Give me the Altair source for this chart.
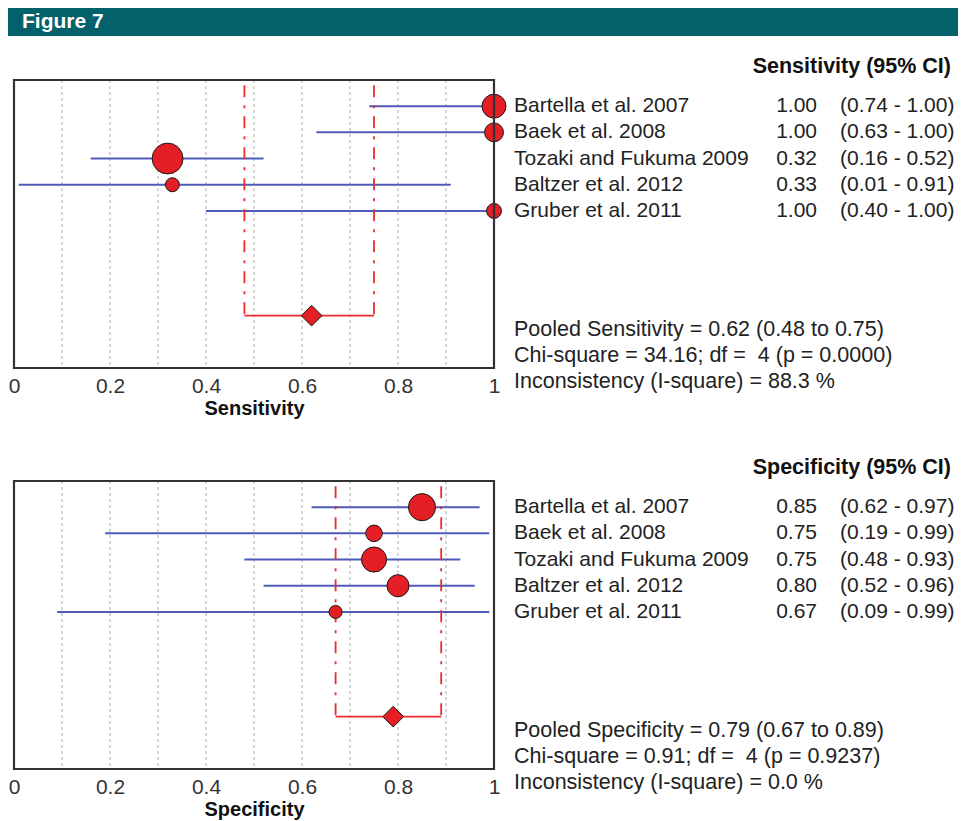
import altair as alt
import pandas as pd

# ---------------- data ----------------
studies = ["Bartella et al. 2007", "Baek et al. 2008", "Tozaki and Fukuma 2009",
           "Baltzer et al. 2012", "Gruber et al. 2011"]
rows = [1, 2, 3, 4, 5]

sens = [1.00, 1.00, 0.32, 0.33, 1.00]
sens_lo = [0.74, 0.63, 0.16, 0.01, 0.40]
sens_hi = [1.00, 1.00, 0.52, 0.91, 1.00]
sens_weight = [24.8, 15.6, 41.4, 8.5, 9.7]

spec = [0.85, 0.75, 0.75, 0.80, 0.67]
spec_lo = [0.62, 0.19, 0.48, 0.52, 0.09]
spec_hi = [0.97, 0.99, 0.93, 0.96, 0.99]
spec_weight = [32.0, 11.9, 27.4, 21.2, 7.4]

sens_pooled = [0.62, 0.48, 0.75]
sens_stats = ["34.16", "4", "0.0000", "88.3"]
spec_pooled = [0.79, 0.67, 0.89]
spec_stats = ["0.91", "4", "0.9237", "0.0"]

grid_ticks = [0.1, 0.2, 0.3, 0.4, 0.5, 0.6, 0.7, 0.8, 0.9]
axis_ticks = [0, 0.2, 0.4, 0.6, 0.8, 1]

FONT = "Liberation Sans"
RED = "#e31e24"
BLUE = "#4f5bb8"
TXT = "#222222"

XS = alt.Scale(domain=[0, 1], nice=False, zero=False)
SIZE = alt.Scale(domain=[0, 100], range=[0, 2300])


def panel(label, est, lo, hi, weight, pooled, stats, yrange, offset):
    ys = alt.Scale(domain=[0, 11], range=yrange, nice=False, zero=False)
    study_df = pd.DataFrame({
        "study": studies, "row": rows, "est": est, "lo": lo, "hi": hi, "w": weight,
        "est_t": [f"{v:.2f}" for v in est],
        "ci_t": [f"({a:.2f} - {b:.2f})" for a, b in zip(lo, hi)],
    })
    grid_df = pd.DataFrame({"gx": grid_ticks, "y0": 0, "y1": 11})
    box_df = pd.DataFrame({"x0": [0.0], "x1": [1.0], "y0": [0], "y1": [11]})
    pv_df = pd.DataFrame({"px": [pooled[1], pooled[2]], "y0": 0.2, "y1": 9})
    ph_df = pd.DataFrame({"x0": [pooled[1]], "x1": [pooled[2]], "est": [pooled[0]], "row": [9]})
    head_df = pd.DataFrame({"t": [f"{label} (95% CI)"], "row": [-0.5]})
    stat_df = pd.DataFrame({
        "t": [f"Pooled {label} = {pooled[0]:.2f} ({pooled[1]:.2f} to {pooled[2]:.2f})",
              f"Chi-square = {stats[0]}; df = \u00a0{stats[1]} (p = {stats[2]})",
              f"Inconsistency (I-square) = {stats[3]} %"],
        "row": [9.55, 10.55, 11.55],
    })

    grid = alt.Chart(grid_df).mark_rule(color="#c4c4c4", strokeWidth=1.4, strokeDash=[3, 3]).encode(
        x=alt.X("gx:Q", scale=XS, axis=None),
        y=alt.Y("y0:Q", scale=ys, axis=None), y2="y1")

    box = alt.Chart(box_df).mark_rect(fill="transparent", stroke="#333333", strokeWidth=2.2).encode(
        x=alt.X("x0:Q", scale=XS, axis=alt.Axis(
            orient="bottom", offset=offset, values=axis_ticks, format="~g",
            domain=False, ticks=False, grid=False, labelFlush=False, labelOverlap=False,
            labelFont=FONT, labelFontSize=21, labelColor="#333333", labelPadding=7,
            title=label, titleFont=FONT, titleFontSize=20, titleFontWeight="bold",
            titleColor="#111111", titlePadding=2)),
        x2="x1",
        y=alt.Y("y0:Q", scale=ys, axis=None), y2="y1")

    ci = alt.Chart(study_df).mark_rule(color=BLUE, strokeWidth=2).encode(
        x=alt.X("lo:Q", scale=XS, axis=None), x2="hi",
        y=alt.Y("row:Q", scale=ys, axis=None))

    dots = alt.Chart(study_df).mark_circle(color=RED, opacity=1, stroke="#1a1a1a", strokeWidth=1).encode(
        x=alt.X("est:Q", scale=XS, axis=None),
        y=alt.Y("row:Q", scale=ys, axis=None),
        size=alt.Size("w:Q", scale=SIZE, legend=None))

    pv = alt.Chart(pv_df).mark_rule(color="#ee2a2a", strokeWidth=1.8, strokeDash=[12, 8, 3, 8]).encode(
        x=alt.X("px:Q", scale=XS, axis=None),
        y=alt.Y("y0:Q", scale=ys, axis=None), y2="y1")

    ph = alt.Chart(ph_df).mark_rule(color="#ee2a2a", strokeWidth=1.6).encode(
        x=alt.X("x0:Q", scale=XS, axis=None), x2="x1",
        y=alt.Y("row:Q", scale=ys, axis=None))

    diamond = alt.Chart(ph_df).mark_point(shape="diamond", filled=True, color=RED, opacity=1,
                                          stroke="#1a1a1a", strokeWidth=1, size=430).encode(
        x=alt.X("est:Q", scale=XS, axis=None),
        y=alt.Y("row:Q", scale=ys, axis=None))

    head = alt.Chart(head_df).mark_text(align="right", baseline="middle", font=FONT, fontSize=21.5,
                                        fontWeight="bold", color="#111111").encode(
        x=alt.value(937), y=alt.Y("row:Q", scale=ys, axis=None), text="t:N")

    names = alt.Chart(study_df).mark_text(align="left", baseline="middle", font=FONT, fontSize=21,
                                          color=TXT).encode(
        x=alt.value(500), y=alt.Y("row:Q", scale=ys, axis=None), text="study:N")

    ests = alt.Chart(study_df).mark_text(align="right", baseline="middle", font=FONT, fontSize=21,
                                         color=TXT).encode(
        x=alt.value(803), y=alt.Y("row:Q", scale=ys, axis=None), text="est_t:N")

    cis = alt.Chart(study_df).mark_text(align="left", baseline="middle", font=FONT, fontSize=21,
                                        color=TXT).encode(
        x=alt.value(826), y=alt.Y("row:Q", scale=ys, axis=None), text="ci_t:N")

    stats_t = alt.Chart(stat_df).mark_text(align="left", baseline="middle", font=FONT, fontSize=21.5,
                                           color=TXT).encode(
        x=alt.value(500), y=alt.Y("row:Q", scale=ys, axis=None), text="t:N")

    return [grid, ci, pv, ph, dots, diamond, box, head, names, ests, cis, stats_t]


top = panel("Sensitivity", sens, sens_lo, sens_hi, sens_weight, sens_pooled, sens_stats,
            [72, 360], -401)
bottom = panel("Specificity", spec, spec_lo, spec_hi, spec_weight, spec_pooled, spec_stats,
               [473, 761], 0)

fig_df = pd.DataFrame({"t": ["Figure 7"]})
band = alt.Chart(fig_df).mark_rect(color="#03616c").encode(
    x=alt.value(-6), x2=alt.value(944), y=alt.value(0), y2=alt.value(28))
fig_title = alt.Chart(fig_df).mark_text(align="left", baseline="middle",
                                         font=FONT, fontSize=21, fontWeight="bold",
                                         color="white").encode(
    x=alt.value(8), y=alt.value(14), text="t:N")

chart = alt.layer(band, fig_title, *top, *bottom).resolve_scale(
    y="independent"
).resolve_axis(
    x="independent", y="independent"
).properties(
    width=480, height=761,
    autosize=alt.AutoSizeParams(type="none"),
    padding={"left": 6, "top": 0, "right": 464, "bottom": 52},
).configure_view(stroke=None)

chart.save("out.html", embed_options={"renderer": "svg", "actions": False})
